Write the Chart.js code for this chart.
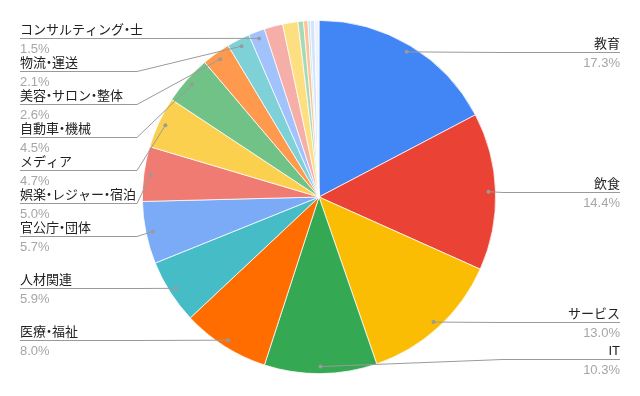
<!DOCTYPE html>
<html>
<head>
<meta charset="utf-8">
<script src="https://cdn.jsdelivr.net/npm/chart.js@4/dist/chart.umd.min.js"></script>
<style>
  html, body { margin: 0; padding: 0; background: #fff; }
  canvas { display: block; }
</style>
</head>
<body>
<canvas id="chart" width="640" height="396"></canvas>
<script>
// 業種別の割合 (%)
const categories = [
  '教育', '飲食', 'サービス', 'IT', '医療・福祉', '人材関連', '官公庁・団体',
  '娯楽・レジャー・宿泊', 'メディア', '自動車・機械', '美容・サロン・整体', '物流・運送',
  'コンサルティング・士', 'その他1', 'その他2', 'その他3', 'その他4', 'その他5', 'その他6', 'その他7'
];
const values = [17.3, 14.4, 13.0, 10.3, 8.0, 5.9, 5.7, 5.0, 4.7, 4.5, 2.6, 2.1, 1.5, 1.7, 1.4, 0.5, 0.4, 0.2, 0.4, 0.4];
const labelCount = 13; // ラベル付きのスライス数
const colors = [
  '#4285f4', '#ea4335', '#fbbc04', '#34a853', '#ff6d01', '#46bdc6', '#7baaf7',
  '#f07b72', '#fcd04f', '#71c287', '#ff994d', '#7ed1d7', '#a1c2fa',
  '#f6aea9', '#fdde80', '#a6dab4', '#ffc197', '#b8e5e9', '#d4e3fc', '#eef4fe'
];

const FONT = '"Liberation Sans", Arial, "Noto Sans CJK JP", sans-serif';

// 「・」を詰めて1文字ずつ描く
function drawText(ctx, text, x, y, align) {
  const chars = Array.from(text);
  const widths = chars.map(c => c === '・' ? 6 : ctx.measureText(c).width);
  const total = widths.reduce((a, b) => a + b, 0);
  let cx = align === 'right' ? x - total : x;
  ctx.textAlign = 'left';
  chars.forEach((c, k) => {
    if (c === '・') {
      const w = ctx.measureText(c).width;
      ctx.fillText(c, cx + (widths[k] - w) / 2, y);
    } else {
      ctx.fillText(c, cx, y);
    }
    cx += widths[k];
  });
}

// リーダー線付きラベルを描くプラグイン
const leaderLabels = {
  id: 'leaderLabels',
  afterDraw(chart) {
    const ctx = chart.ctx;
    const meta = chart.getDatasetMeta(0);
    const total = values.reduce((a, b) => a + b, 0);
    const W = chart.width;
    const items = [];
    for (let i = 0; i < labelCount; i++) {
      const arc = meta.data[i];
      const p = arc.getProps(['x', 'y', 'startAngle', 'endAngle', 'outerRadius'], true);
      const mid = (p.startAngle + p.endAngle) / 2;
      const r = p.outerRadius * 0.96;
      const dx = p.x + Math.cos(mid) * r;
      const dy = p.y + Math.sin(mid) * r;
      items.push({
        i, dx, dy,
        side: Math.cos(mid) >= 0 ? 'right' : 'left',
        pct: (values[i] / total * 100).toFixed(1) + '%'
      });
    }

    const gap = 33, minY = 37, maxY = 359;
    ['left', 'right'].forEach(side => {
      const list = items.filter(d => d.side === side).sort((a, b) => a.dy - b.dy);
      list.forEach((d, k) => {
        d.ly = Math.max(d.dy, minY, k > 0 ? list[k - 1].ly + gap : -Infinity);
      });
      for (let k = list.length - 1; k >= 0; k--) {
        const d = list[k];
        d.ly = Math.min(d.ly, maxY, k < list.length - 1 ? list[k + 1].ly - gap : Infinity);
      }
    });

    ctx.save();
    items.forEach(d => {
      const left = d.side === 'left';
      const tx = left ? 20 : W - 20;
      const elbow = left ? 137 : W - 137;
      const ly = Math.round(d.ly);
      ctx.strokeStyle = '#9a9a9a';
      ctx.lineWidth = 1;
      ctx.beginPath();
      ctx.moveTo(tx, ly + 0.5);
      ctx.lineTo(elbow, ly + 0.5);
      ctx.lineTo(d.dx, d.dy);
      ctx.stroke();

      ctx.fillStyle = '#9a9a9a';
      ctx.beginPath();
      ctx.arc(d.dx, d.dy, 2, 0, Math.PI * 2);
      ctx.fill();

      ctx.textBaseline = 'alphabetic';
      ctx.font = '13px ' + FONT;
      ctx.fillStyle = '#222222';
      drawText(ctx, categories[d.i], tx, ly - 4, left ? 'left' : 'right');
      ctx.fillStyle = '#a6a6a6';
      ctx.textAlign = left ? 'left' : 'right';
      ctx.fillText(d.pct, tx, ly + 15);
    });
    ctx.restore();
  }
};

const ctx = document.getElementById('chart').getContext('2d');
new Chart(ctx, {
  type: 'pie',
  data: {
    labels: categories,
    datasets: [{
      data: values,
      backgroundColor: colors,
      borderColor: '#ffffff',
      borderWidth: 0.75
    }]
  },
  options: {
    responsive: false,
    animation: false,
    layout: {
      padding: { top: 20, bottom: 22, left: 142, right: 144 }
    },
    plugins: {
      legend: { display: false },
      tooltip: { enabled: false }
    }
  },
  plugins: [leaderLabels]
});
</script>
</body>
</html>
